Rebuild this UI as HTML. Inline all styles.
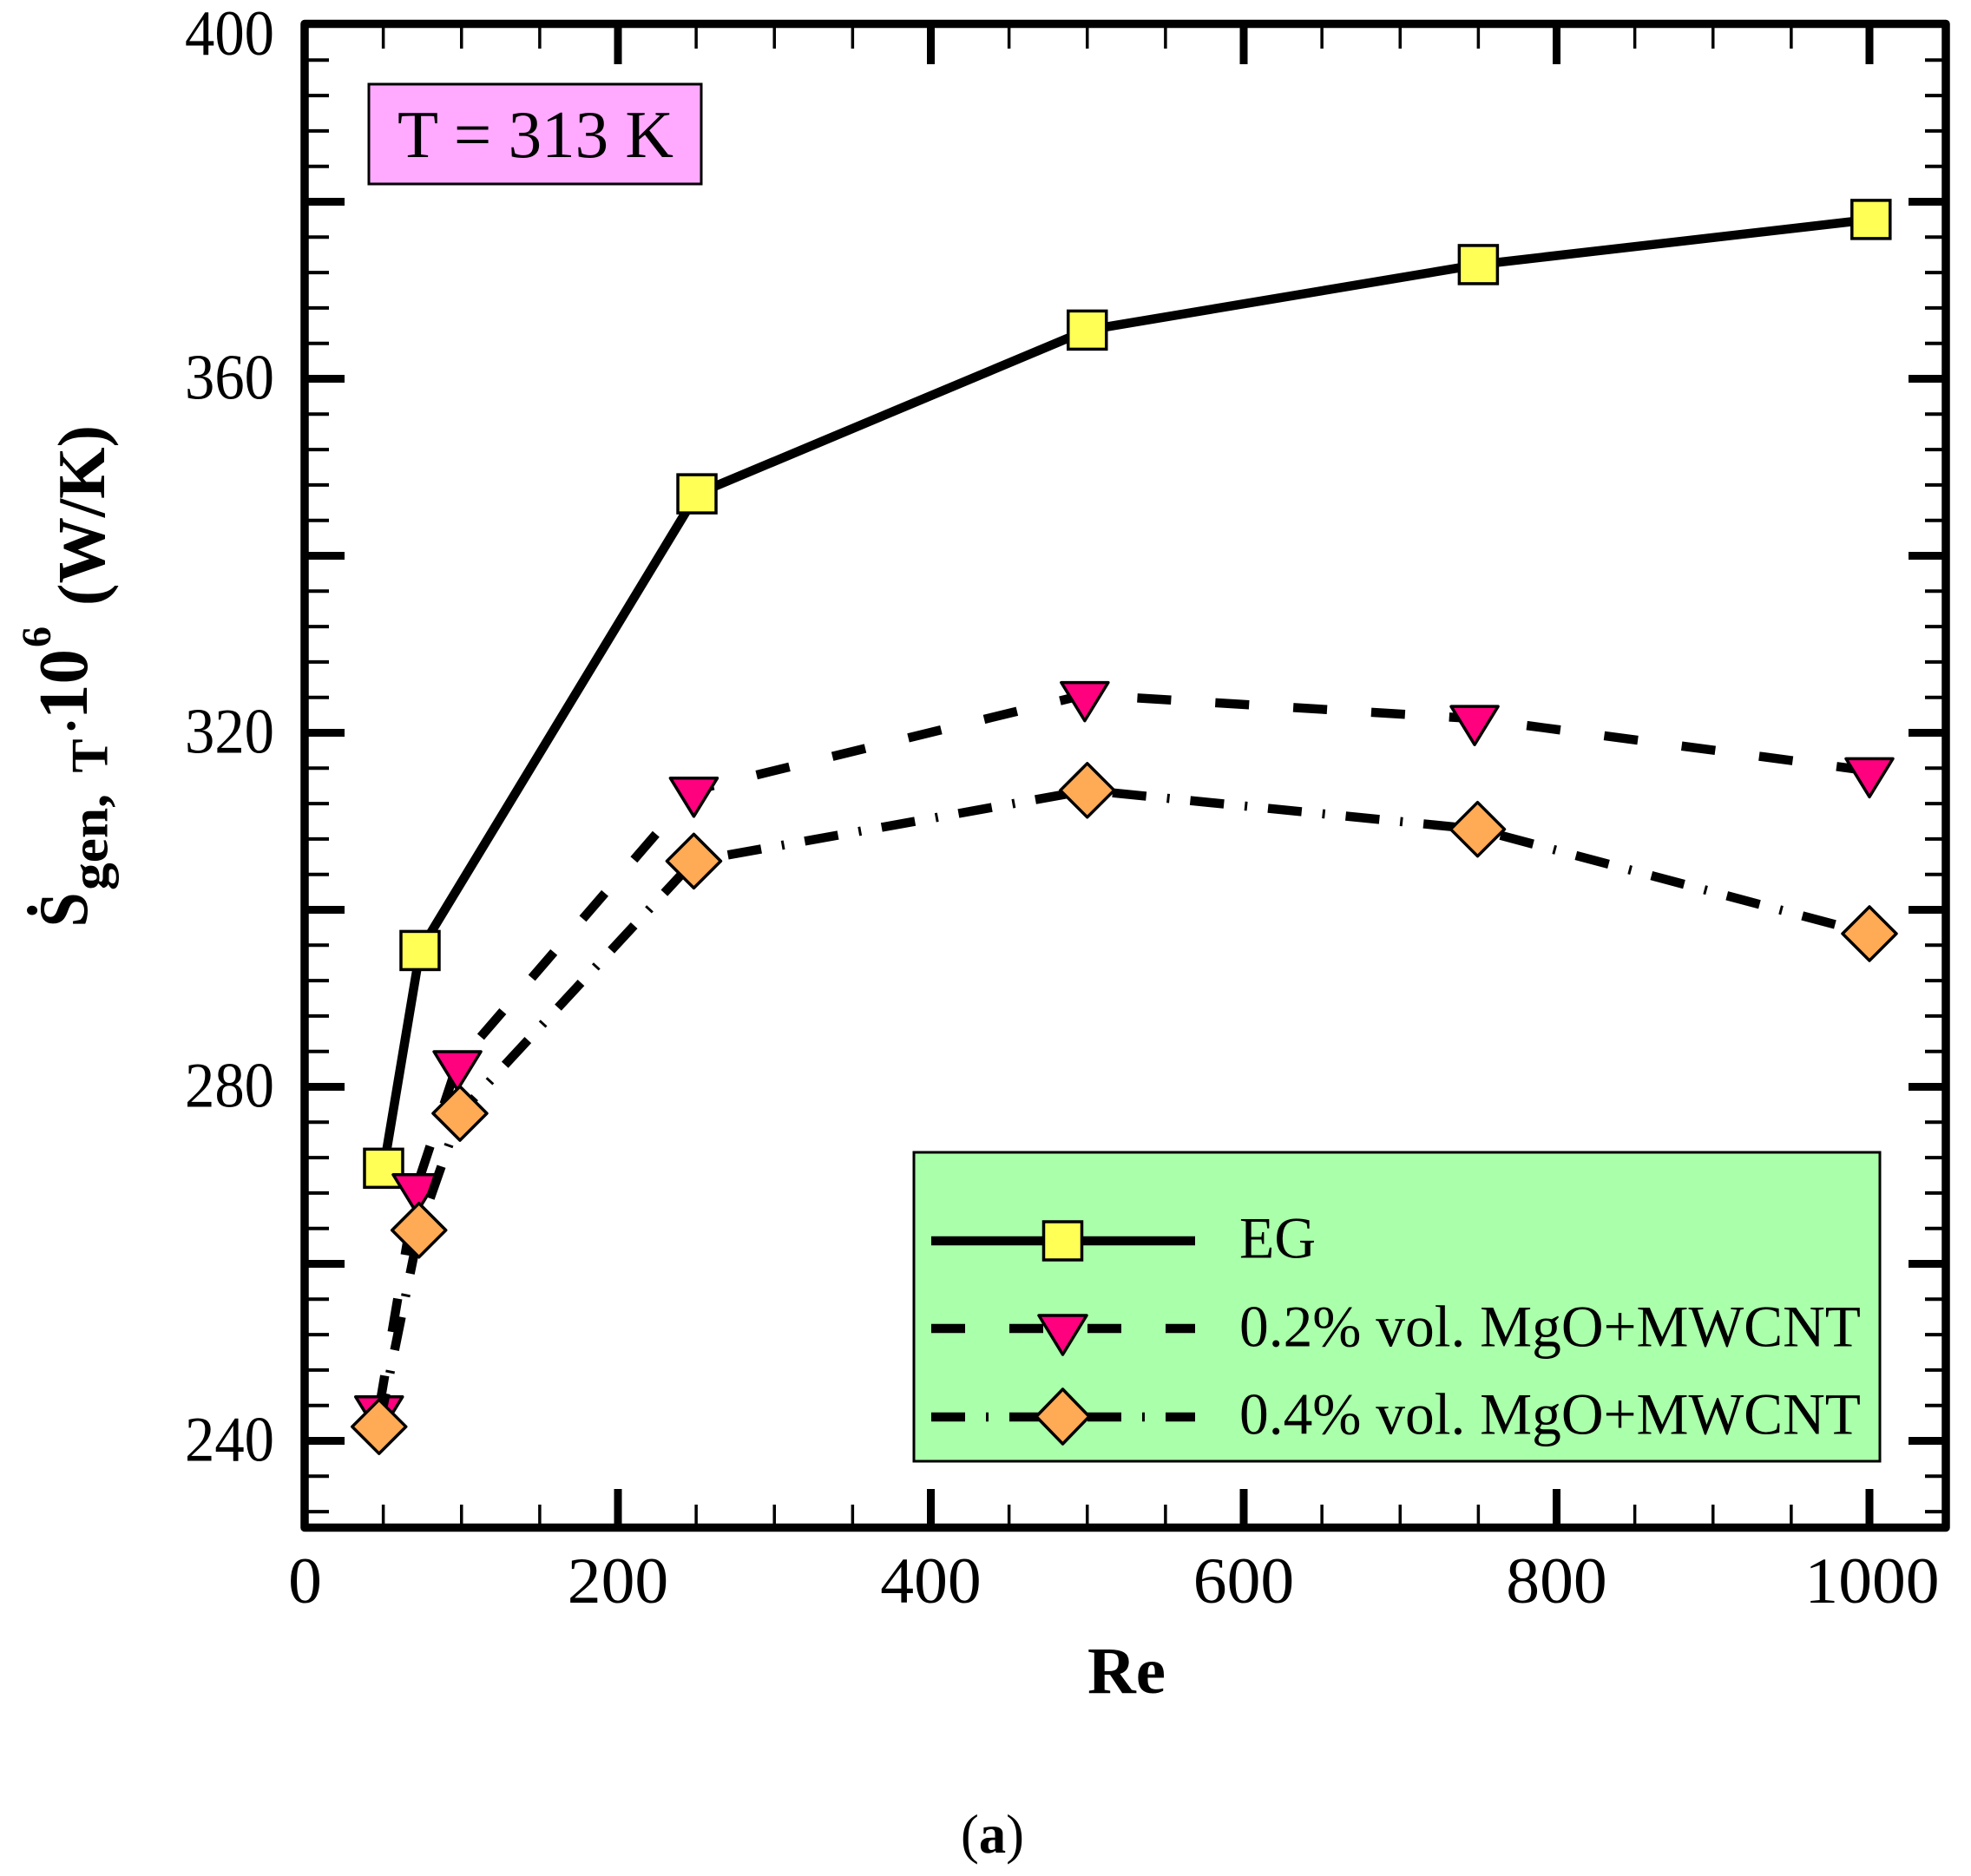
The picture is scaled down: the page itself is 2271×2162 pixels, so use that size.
<!DOCTYPE html>
<html lang="en">
<head>
<meta charset="utf-8">
<title>Entropy generation vs Re</title>
<style>
html,body{margin:0;padding:0;background:#fff;}
svg{display:block;}
text{font-family:"Liberation Serif","DejaVu Serif",serif;fill:#000;}
</style>
</head>
<body>
<svg id="chart" xmlns="http://www.w3.org/2000/svg" width="2271" height="2162" viewBox="0 0 2271 2162">
  <rect x="0" y="0" width="2271" height="2162" fill="#fff"/>
  <g id="ticks"></g>
  <g id="series"></g>
  <rect id="frame" x="351" y="27.5" width="1891" height="1733" fill="none" stroke="#000" stroke-width="9.5" stroke-linejoin="round"/>
  <g id="tick-labels"></g>

  <g>
    <rect x="425" y="97" width="383" height="115" fill="#FFAAFF" stroke="#000" stroke-width="3"/>
    <text x="458" y="181" font-size="77" textLength="318" lengthAdjust="spacingAndGlyphs">T = 313 K</text>
  </g>

  <g>
    <rect x="1053" y="1328" width="1113" height="356" fill="#AAFFAA" stroke="#000" stroke-width="3"/>
    <g>
      <line x1="1073" y1="1430" x2="1377" y2="1430" stroke="#000" stroke-width="10.5"/>
      <rect x="1202.5" y="1408" width="44" height="44" fill="#FFFF55" stroke="#000" stroke-width="3.5"/>
      <text x="1428" y="1449.5" font-size="68" textLength="88" lengthAdjust="spacingAndGlyphs">EG</text>
    </g>
    <g>
      <line x1="1073" y1="1531" x2="1377" y2="1531" stroke="#000" stroke-width="10.5" stroke-dasharray="39 51"/>
      <polygon points="1197,1516 1252,1516 1224.5,1561" fill="#FF007F" stroke="#000" stroke-width="3.5" stroke-linejoin="round"/>
      <text x="1428" y="1551.5" font-size="68" textLength="716" lengthAdjust="spacingAndGlyphs">0.2% vol. MgO+MWCNT</text>
    </g>
    <g>
      <line x1="1073" y1="1633" x2="1377" y2="1633" stroke="#000" stroke-width="10.5" stroke-dasharray="39 24 3 24"/>
      <polygon points="1224.5,1601 1255,1632.5 1224.5,1664 1194,1632.5" fill="#FFAA55" stroke="#000" stroke-width="3.5" stroke-linejoin="round"/>
      <text x="1428" y="1652.5" font-size="68" textLength="716" lengthAdjust="spacingAndGlyphs">0.4% vol. MgO+MWCNT</text>
    </g>
  </g>

  <text x="1253" y="1951" font-size="76" font-weight="bold" textLength="90" lengthAdjust="spacingAndGlyphs">Re</text>

  <g>
    <text transform="translate(100,1068.5) rotate(-90)" font-size="80" font-weight="bold" textLength="40" lengthAdjust="spacingAndGlyphs">&#7776;</text>
    <text transform="translate(123.5,1026) rotate(-90)" font-size="60" font-weight="bold" textLength="111" lengthAdjust="spacingAndGlyphs">gen,</text>
    <text transform="translate(123.5,890.5) rotate(-90)" font-size="60" font-weight="bold" textLength="39" lengthAdjust="spacingAndGlyphs">T</text>
    <text transform="translate(86,844) rotate(-90)" font-size="60" font-weight="bold">.</text>
    <text transform="translate(100,829) rotate(-90)" font-size="81" font-weight="bold">10</text>
    <text transform="translate(58,746) rotate(-90)" font-size="48" font-weight="bold">6</text>
    <text transform="translate(120,698) rotate(-90)" font-size="77" font-weight="bold" textLength="208" lengthAdjust="spacingAndGlyphs">(W/K)</text>
  </g>

  <text x="1107" y="2135" font-size="64" textLength="73" lengthAdjust="spacingAndGlyphs">(<tspan font-weight="bold">a</tspan>)</text>
</svg>
<script>
const xMajorTicks = [200, 400, 600, 800, 1000];
const xMinorTicks = [50, 100, 150, 250, 300, 350, 450, 500, 550, 650, 700, 750, 850, 900, 950];
const yMajorTicks = [240, 260, 280, 300, 320, 340, 360, 380];
const yMinorTicks = [232, 236, 244, 248, 252, 256, 264, 268, 272, 276, 284, 288, 292, 296, 304, 308, 312, 316, 324, 328, 332, 336, 344, 348, 352, 356, 364, 368, 372, 376, 384, 388, 392, 396];
const xTickLabels = [0, 200, 400, 600, 800, 1000];
const yTickLabels = [240, 280, 320, 360, 400];

const egRe = [50.2, 73.5, 250.5, 500, 750, 1001];
const egValues = [270.8, 295.4, 347, 365.5, 372.9, 378];
const mix02Re = [47.3, 71.3, 97.4, 248.5, 498.4, 747.6, 1000];
const mix02Values = [243.6, 268.7, 282.6, 313.5, 324.3, 321.6, 315.7];
const mix04Re = [47.3, 72.8, 99, 248.5, 500, 749.5, 1000];
const mix04Values = [241.6, 263.8, 277, 305.5, 313.5, 309.1, 297.3];

const SVGNS = 'http://www.w3.org/2000/svg';
const xScale = v => 351.5 + v * 1.8025;
const yScale = v => 1660.5 - (v - 240) * 10.2;

function mk(tag, parent, attrs) {
  const n = document.createElementNS(SVGNS, tag);
  for (const k in attrs) n.setAttribute(k, attrs[k]);
  parent.appendChild(n);
  return n;
}

const tickLayer = document.getElementById('ticks');
const labelLayer = document.getElementById('tick-labels');
const seriesLayer = document.getElementById('series');

function vTick(x, y1, y2, w) {
  const t = mk('line', tickLayer, {x1: x, x2: x, y1: y1, y2: y2, stroke: '#000', 'stroke-width': w});
  
  
}
function hTick(y, x1, x2, w) {
  const t = mk('line', tickLayer, {x1: x1, x2: x2, y1: y, y2: y, stroke: '#000', 'stroke-width': w});
  
  
}

xMajorTicks.forEach(v => {
  const x = xScale(v);
  vTick(x, 28, 74, 9);
  vTick(x, 1760, 1716, 9);
});
xMinorTicks.forEach(v => {
  const x = xScale(v);
  vTick(x, 28, 56, 3.5);
  vTick(x, 1760, 1734, 3.5);
});
yMajorTicks.forEach(v => {
  const y = yScale(v);
  hTick(y, 351, 397, 9);
  hTick(y, 2242, 2199, 9);
});
yMinorTicks.forEach(v => {
  const y = yScale(v);
  hTick(y, 351, 379, 4);
  hTick(y, 2242, 2218, 4);
});

xTickLabels.forEach(v => {
  const s = String(v);
  const t = mk('text', labelLayer, {
    x: xScale(v) + (v === 1000 ? 3 : 0), y: 1847, 'font-size': 75, 'text-anchor': 'middle',
    textLength: s.length * 38.8, lengthAdjust: 'spacingAndGlyphs'
  });
  t.textContent = s;
  
  
});
yTickLabels.forEach(v => {
  const s = String(v);
  const t = mk('text', labelLayer, {
    x: 316, y: Math.max(yScale(v) + 23, 63), 'font-size': 74, 'text-anchor': 'end',
    textLength: 103, lengthAdjust: 'spacingAndGlyphs'
  });
  t.textContent = s;
  
  
});

function drawLine(name, re, vals, dash) {
  const pts = re.map((r, i) => xScale(r) + ',' + yScale(vals[i])).join(' ');
  const attrs = {points: pts, fill: 'none', stroke: '#000', 'stroke-width': 10.5, 'stroke-linejoin': 'miter'};
  if (dash) attrs['stroke-dasharray'] = dash;
  const l = mk('polyline', seriesLayer, attrs);
  
  
}

// EG series
drawLine('line-eg', egRe, egValues, null);
egRe.forEach((r, i) => {
  const m = mk('rect', seriesLayer, {
    x: xScale(r) - 22, y: yScale(egValues[i]) - 22, width: 44, height: 44,
    fill: '#FFFF55', stroke: '#000', 'stroke-width': 3.5
  });
  
  
});

// 0.2% series
drawLine('line-0-2-percent', mix02Re, mix02Values, '39 51');
mix02Re.forEach((r, i) => {
  const cx = xScale(r), cy = yScale(mix02Values[i]);
  const m = mk('polygon', seriesLayer, {
    points: (cx - 27) + ',' + (cy - 14) + ' ' + (cx + 27) + ',' + (cy - 14) + ' ' + cx + ',' + (cy + 30),
    fill: '#FF007F', stroke: '#000', 'stroke-width': 3.5, 'stroke-linejoin': 'round'
  });
  
  
});

// 0.4% series
drawLine('line-0-4-percent', mix04Re, mix04Values, '39 24 3 24');
mix04Re.forEach((r, i) => {
  const cx = xScale(r), cy = yScale(mix04Values[i]);
  const m = mk('polygon', seriesLayer, {
    points: cx + ',' + (cy - 31) + ' ' + (cx + 31) + ',' + cy + ' ' + cx + ',' + (cy + 31) + ' ' + (cx - 31) + ',' + cy,
    fill: '#FFAA55', stroke: '#000', 'stroke-width': 3.5, 'stroke-linejoin': 'round'
  });
  
  
});
</script>
</body>
</html>
